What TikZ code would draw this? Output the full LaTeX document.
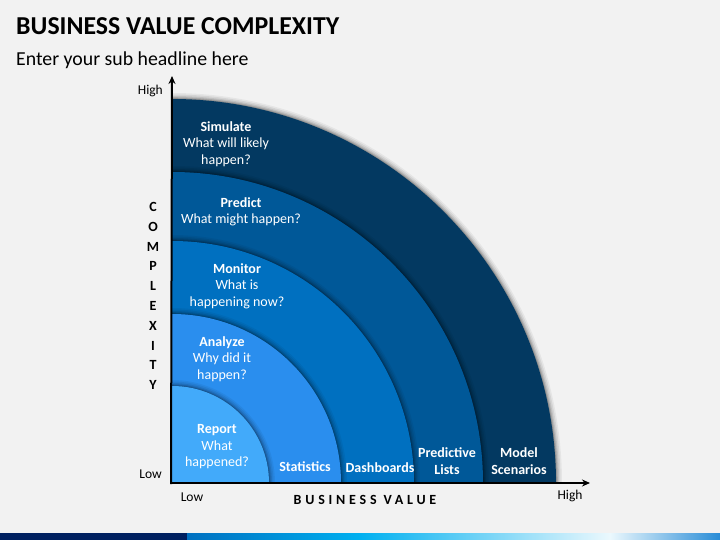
\documentclass[tikz,border=0pt]{standalone}
\usepackage{fontspec}
\setmainfont{Carlito}
\usetikzlibrary{arrows.meta}
\definecolor{bgc}{RGB}{242,242,242}
\definecolor{csim}{RGB}{3,57,97}
\definecolor{cpre}{RGB}{0,88,152}
\definecolor{cmon}{RGB}{0,112,192}
\definecolor{cana}{RGB}{42,142,238}
\definecolor{crep}{RGB}{66,170,250}
\definecolor{navy}{RGB}{0,32,96}
\definecolor{barA}{RGB}{0,112,192}
\definecolor{barB}{RGB}{0,176,240}
\definecolor{barC}{RGB}{235,248,253}
\definecolor{barD}{RGB}{40,140,215}
\tikzset{
  sectxt/.style={text=white, align=center, font=\fontsize{14}{16.5}\selectfont, inner sep=0pt},
  axlbl/.style={font=\fontsize{13.5}{15}\selectfont, inner sep=0pt},
  axline/.style={line width=2pt, -{Stealth[length=8pt,width=7pt]}},
}
\newcommand{\sector}[2]{%
  \foreach \k/\o in {6/0.05,4.5/0.07,3/0.09,1.8/0.12,0.8/0.15}{
    \fill[black,opacity=\o] (172,483) -- ({172+#1+\k},483) arc[start angle=0,end angle=-90,radius={#1+\k}] -- cycle;
  }
  \fill[#2] (172,483) -- ({172+#1},483) arc[start angle=0,end angle=-90,radius=#1] -- cycle;
}
\begin{document}
\begin{tikzpicture}[x=1pt,y=-1pt]
\fill[bgc] (0,0) rectangle (720,540);
\useasboundingbox (0,0) rectangle (720,540);
% title
\node[anchor=base west, inner sep=0pt, font=\fontsize{25.8}{28}\selectfont\bfseries] (title) at (16,35) {BUSINESS VALUE COMPLEXITY};
\node[anchor=base west, inner sep=0pt, font=\fontsize{19.8}{22}\selectfont] (sub) at (16,66) {Enter your sub headline here};
% sectors
\sector{384}{csim}
\sector{311}{cpre}
\sector{242}{cmon}
\sector{169}{cana}
\sector{97}{crep}
% axes
\coordinate (origin) at (172,483);
\coordinate (ytip) at (172,76);
\coordinate (xtip) at (590,483);
\draw[axline] (171,484) -- (ytip);
\draw[axline] (171,483) -- (xtip);
% texts in sectors
\node[sectxt] (sim) at (226,144) {\textbf{Simulate}\\What will likely\\happen?};
\node[sectxt] (pre) at (241,212) {\textbf{Predict}\\What might happen?};
\node[sectxt] (mon) at (237,286) {\textbf{Monitor}\\What is\\happening now?};
\node[sectxt] (ana) at (222,359) {\textbf{Analyze}\\Why did it\\happen?};
\node[sectxt] (rep) at (217,447) {\textbf{Report}\\What\\happened?};
\node[sectxt] (sta) at (305,467) {\textbf{Statistics}};
\node[sectxt] (das) at (380,468) {\textbf{Dashboards}};
\node[sectxt] (pli) at (447,461) {\textbf{Predictive}\\\textbf{Lists}};
\node[sectxt] (mod) at (519,461) {\textbf{Model}\\\textbf{Scenarios}};
% axis labels
\node[axlbl, anchor=east] (yhigh) at (163,91) {High};
\node[axlbl, anchor=east] (ylow) at (162,474) {Low};
\node[axlbl] (xlow) at (192,497) {Low};
\node[axlbl] (xhigh) at (570,496) {High};
\node[inner sep=0pt, font=\fontsize{14}{16}\selectfont\bfseries\addfontfeature{LetterSpace=27}] (bv) at (365,500) {BUSINESS VALUE};
\foreach \ch [count=\i from 0] in {C,O,M,P,L,E,X,I,T,Y}{
  \node[inner sep=0pt, font=\fontsize{14}{16}\selectfont\bfseries] (cx\i) at (153,{207+19.8*\i}) {\ch};
}
% bottom bar
\fill[navy] (0,533) rectangle (187,540);
\shade[left color=barA, right color=barB] (187,533) rectangle (360,540);
\shade[left color=barB, right color=barC] (360,533) rectangle (610,540);
\shade[left color=barC, right color=barD] (610,533) rectangle (720,540);
\end{tikzpicture}
\end{document}
